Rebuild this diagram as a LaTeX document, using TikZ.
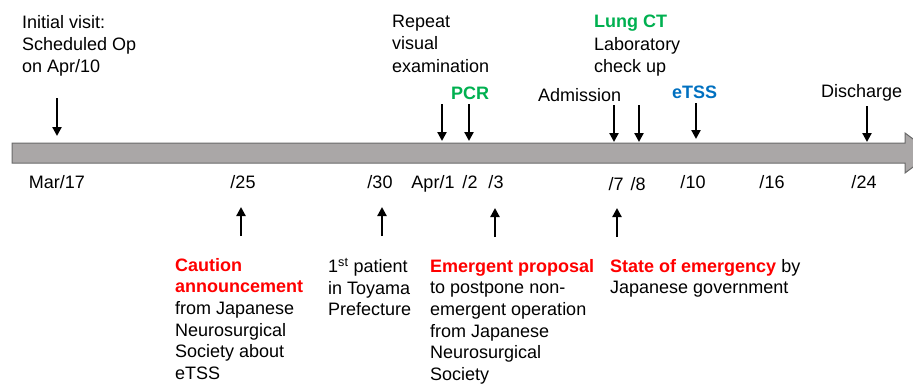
\documentclass[tikz,border=0pt]{standalone}
\usepackage{fontspec}
\setmainfont{Liberation Sans}
\usetikzlibrary{arrows.meta}
\definecolor{bargray}{HTML}{AAA7A7}
\definecolor{baredge}{HTML}{6A6A6A}
\definecolor{tlgreen}{HTML}{00B050}
\definecolor{tlred}{HTML}{FF0000}
\definecolor{tlblue}{HTML}{0070C0}
\tikzset{
  txt/.style={anchor=north west, inner sep=0pt, align=left,
    font=\fontsize{18}{22.3}\selectfont},
  btxt/.style={anchor=north west, inner sep=0pt, align=left,
    font=\fontsize{18}{21.6}\selectfont},
  datelbl/.style={anchor=base, inner sep=0pt, font=\fontsize{18}{22}\selectfont},
  marker/.style={line width=2.2pt, -{Triangle[width=9pt,length=9pt]}},
}
\begin{document}
\begin{tikzpicture}[x=1pt,y=-1pt]
\useasboundingbox (0,0) rectangle (913,384);
\clip (0,0) rectangle (913,384);
% timeline bar
\draw[fill=bargray, draw=baredge, line width=1pt]
  (12,143) -- (905,143) -- (905,133) -- (932,153) -- (905,173) -- (905,163) -- (12,163) -- cycle;
% top texts
\node[txt] (initial) at (22,15) {Initial visit:\\Scheduled Op\\on Apr/10};
\node[txt] (repeat) at (392,15) {Repeat\\visual\\examination};
\node[txt] (lung) at (594,15) {\textcolor{tlgreen}{\textbf{Lung CT}}\\Laboratory\\check up};
\node[txt] (pcr) at (451,87) {\textcolor{tlgreen}{\textbf{PCR}}};
\node[txt] (adm) at (538,88) {Admission};
\node[txt] (etss) at (672,86) {\textcolor{tlblue}{\textbf{eTSS}}};
\node[txt] (dis) at (821,84) {Discharge};
% dates
\node[datelbl] (d17) at (57,188) {Mar/17};
\node[datelbl] (d25) at (243,188) {/25};
\node[datelbl] (d30) at (380,188) {/30};
\node[datelbl] (d1) at (433,188) {Apr/1};
\node[datelbl] (d2) at (470,188) {/2};
\node[datelbl] (d3) at (496,188) {/3};
\node[datelbl] (d7) at (616,190) {/7};
\node[datelbl] (d8) at (638,190) {/8};
\node[datelbl] (d10) at (693,188) {/10};
\node[datelbl] (d16) at (772,188) {/16};
\node[datelbl] (d24) at (864,188) {/24};
% bottom texts
\node[btxt] (caution) at (175,258) {\textcolor{tlred}{\textbf{Caution}}\\\textcolor{tlred}{\textbf{announcement}}\\from Japanese\\Neurosurgical\\Society about\\eTSS};
\node[btxt] (first) at (328,258) {1\textsuperscript{st} patient\\in Toyama\\Prefecture};
\node[btxt] (emerg) at (430,259) {\textcolor{tlred}{\textbf{Emergent proposal}}\\to postpone non-\\emergent operation\\from Japanese\\Neurosurgical\\Society};
\node[btxt] (state) at (610,259) {\textcolor{tlred}{\textbf{State of emergency}} by\\Japanese government};
% marker coordinates
\coordinate (a17s) at (57,98);   \coordinate (a17e) at (57,136);
\coordinate (a1s) at (442,104);  \coordinate (a1e) at (442,141);
\coordinate (a2s) at (469,104);  \coordinate (a2e) at (469,141);
\coordinate (a7s) at (614,105);  \coordinate (a7e) at (614,142);
\coordinate (a8s) at (639,105);  \coordinate (a8e) at (639,142);
\coordinate (a10s) at (696,103); \coordinate (a10e) at (696,139);
\coordinate (a24s) at (867,106); \coordinate (a24e) at (867,142);
\coordinate (b25s) at (241,236); \coordinate (b25e) at (241,207);
\coordinate (b30s) at (382,236); \coordinate (b30e) at (382,207);
\coordinate (b3s) at (495,237);  \coordinate (b3e) at (495,208);
\coordinate (b7s) at (617,237);  \coordinate (b7e) at (617,208);
\foreach \p in {a17,a1,a2,a7,a8,a10,a24,b25,b30,b3,b7}
  \draw[marker] (\p s) -- (\p e);
\end{tikzpicture}
\end{document}
